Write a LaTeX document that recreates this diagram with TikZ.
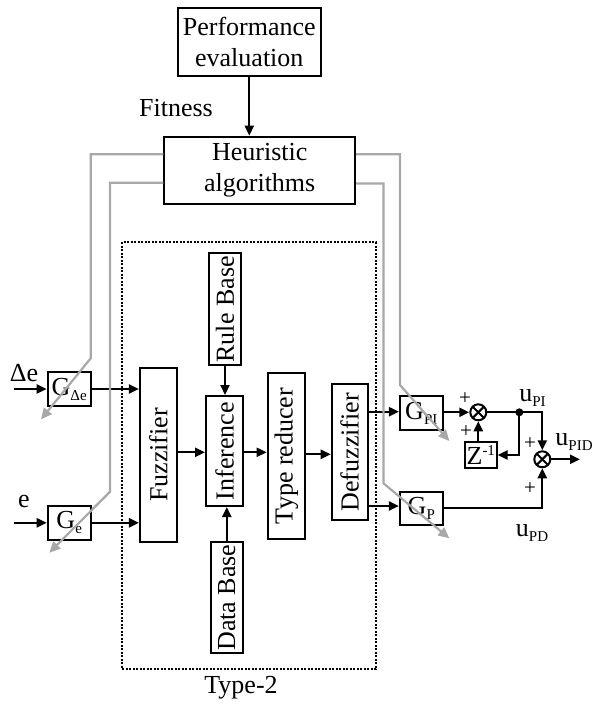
\documentclass[tikz,border=0pt]{standalone}
\usepackage{fontspec}
\setmainfont{Liberation Serif}
\usetikzlibrary{arrows.meta,calc}
\definecolor{lgray}{RGB}{168,168,168}
\newcommand\mysub[1]{\raisebox{-5pt}{\fontsize{15}{15}\selectfont #1}}
\newcommand\mysup[1]{\raisebox{9pt}{\fontsize{15}{15}\selectfont #1}}
\begin{document}
\begin{tikzpicture}[x=1pt,y=-1pt,
  font=\fontsize{26}{31}\selectfont,
  blk/.style={draw, line width=2pt, inner sep=0pt, align=center},
  arr/.style={line width=2.2pt, -{Triangle[length=10pt,width=9pt]}},
  ln/.style={line width=2.2pt},
  gry/.style={draw=lgray, line width=2.2pt, -{Triangle[length=11pt,width=10pt]}},
  summ/.style={circle, draw, line width=2pt, minimum size=16pt, inner sep=0pt,
     path picture={\draw[line width=2pt] (path picture bounding box.north west) -- (path picture bounding box.south east)
       (path picture bounding box.north east) -- (path picture bounding box.south west);}},
  pl/.style={font=\fontsize{21}{21}\selectfont, inner sep=0pt},
  lbl/.style={inner sep=0pt}
]
\useasboundingbox (0,0) rectangle (593,709);

% main blocks
\node[blk, minimum width=143pt, minimum height=68pt] (perf) at (249.3,42.2) {Performance\\evaluation};
\node[blk, minimum width=190.7pt, minimum height=67.3pt] (heur) at (259.7,170.3) {Heuristic\\algorithms};
\node[lbl] (fit) at (176,108) {Fitness};

\draw[line width=2pt, dash pattern=on 2pt off 1.5pt] (122.3,242.3) rectangle (376,669.3);
\node[lbl] (t2) at (241,688) {Type-2};

\node[blk, minimum width=31.7pt, minimum height=112pt] (rule) at (225,309.3) {\rotatebox{90}{Rule Base}};
\node[blk, minimum width=37.3pt, minimum height=110pt] (infer) at (224.7,451) {\rotatebox{90}{Inference}};
\node[blk, minimum width=31.7pt, minimum height=111.6pt] (datab) at (226.8,597.5) {\rotatebox{90}{Data Base}};
\node[blk, minimum width=37.3pt, minimum height=166.6pt] (typer) at (286.3,456) {\rotatebox{90}{Type reducer}};
\node[blk, minimum width=36pt, minimum height=135.7pt] (defuz) at (349.7,452.2) {\rotatebox{90}{Defuzzifier}};
\node[blk, minimum width=36.7pt, minimum height=173.4pt] (fuzz) at (158.3,455) {\rotatebox{90}{Fuzzifier}};

\node[blk, minimum width=43pt, minimum height=33.4pt] (gde) at (69.2,389) {G\mysub{Δe}};
\node[blk, minimum width=43pt, minimum height=34.3pt] (ge) at (69.2,522.8) {G\mysub{e}};
\node[blk, minimum width=42.7pt, minimum height=34pt] (gpi) at (421.3,413) {G\mysub{PI}};
\node[blk, minimum width=42.7pt, minimum height=33.3pt] (gp) at (421.3,508.3) {G\mysub{P}};
\node[blk, minimum width=31.7pt, minimum height=26.6pt] (z) at (480.8,455) {Z\mysup{-1}};

\node[summ] (s1) at (478.3,412.3) {};
\node[summ] (s2) at (542.3,459.3) {};
\node[circle, fill, minimum size=8pt, inner sep=0pt] (dot) at (519.3,412.3) {};

% labels
\node[lbl] (lde) at (24,373) {Δe};
\node[lbl] (le) at (24,501) {e};
\node[lbl] (lupi) at (532.5,398) {u\mysub{PI}};
\node[lbl] (lupid) at (574,442) {u\mysub{PID}};
\node[lbl] (lupd) at (532,533) {u\mysub{PD}};
\node[pl] (p1) at (465,398.5) {+};
\node[pl] (p2) at (466,431.7) {+};
\node[pl] (p3) at (530,443.3) {+};
\node[pl] (p4) at (530,488.3) {+};

% coordinates
\coordinate (din) at (14,389);
\coordinate (ein) at (14,522.8);
\coordinate (uout) at (580,459.3);

% black connectors
\draw[arr] (perf.south) -- (perf.south |- heur.north);
\draw[arr] (din) -- (gde.west);
\draw[arr] (ein) -- (ge.west);
\draw[arr] (gde.east) -- (gde.east -| fuzz.west);
\draw[arr] (ge.east) -- (ge.east -| fuzz.west);
\draw[arr] (fuzz.east |- 0,452.3) -- (infer.west |- 0,452.3);
\draw[arr] (infer.east |- 0,452.3) -- (typer.west |- 0,452.3);
\draw[arr] (typer.east |- 0,454.3) -- (defuz.west |- 0,454.3);
\draw[arr] (rule.south) -- (rule.south |- infer.north);
\draw[arr] (datab.north) -- (datab.north |- infer.south);
\draw[arr] (defuz.east |- 0,411.7) -- (gpi.west |- 0,411.7);
\draw[arr] (defuz.east |- 0,506) -- (gp.west |- 0,506);
\draw[arr] (gpi.east |- s1.west) -- (s1.west);
\draw[ln] (s1.east) -- (dot.center);
\draw[arr] (dot.center) -| (s2.north);
\draw[arr] (dot.center) |- (z.east);
\draw[arr] (s1.south |- z.north) -- (s1.south);
\draw[arr] (gp.east) -| (s2.south);
\draw[arr] (s2.east) -- (uout);

% grey connectors
\coordinate (la1) at (90.7,154.3);
\coordinate (la2) at (90.7,358.3);
\coordinate (la3) at (41,419.3);
\coordinate (lb1) at (110,182.7);
\coordinate (lb2) at (110,491.7);
\coordinate (lb3) at (49.3,552.7);
\coordinate (ra1) at (400,154.3);
\coordinate (ra2) at (400,385);
\coordinate (ra3) at (449.3,441);
\coordinate (rb1) at (383.5,183.5);
\coordinate (rb2) at (383.5,483.3);
\coordinate (rb3) at (449.3,538.3);
\draw[gry] (heur.west |- la1) -- (la1) -- (la2) -- (la3);
\draw[gry] (heur.west |- lb1) -- (lb1) -- (lb2) -- (lb3);
\draw[gry] (heur.east |- ra1) -- (ra1) -- (ra2) -- (ra3);
\draw[gry] (heur.east |- rb1) -- (rb1) -- (rb2) -- (rb3);
\end{tikzpicture}
\end{document}
